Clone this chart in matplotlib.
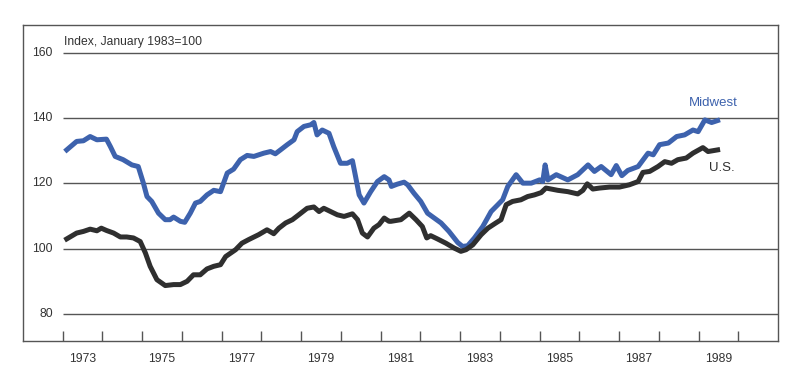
import numpy as np
import matplotlib.pyplot as plt

# Midwest index (decimal year, value)
mw_t = [1973.10, 1973.35, 1973.52, 1973.69, 1973.86, 1974.10, 1974.20, 1974.32, 1974.52, 1974.74,
        1974.90, 1975.03, 1975.12, 1975.24, 1975.41, 1975.58, 1975.70, 1975.79, 1975.96, 1976.07,
        1976.21, 1976.34, 1976.46, 1976.63, 1976.80, 1976.97, 1977.14, 1977.30, 1977.47, 1977.64,
        1977.81, 1978.06, 1978.23, 1978.35, 1978.48, 1978.65, 1978.82, 1978.90, 1979.07, 1979.24,
        1979.32, 1979.40, 1979.53, 1979.70, 1979.82, 1979.99, 1980.16, 1980.29, 1980.37, 1980.46,
        1980.58, 1980.75, 1980.92, 1981.09, 1981.21, 1981.27, 1981.42, 1981.59, 1981.68, 1981.84,
        1982.01, 1982.18, 1982.35, 1982.52, 1982.72, 1982.94, 1983.06, 1983.19, 1983.36, 1983.57,
        1983.78, 1983.95, 1984.07, 1984.20, 1984.41, 1984.58, 1984.79, 1985.00, 1985.08, 1985.14,
        1985.21, 1985.42, 1985.71, 1985.96, 1986.22, 1986.38, 1986.55, 1986.80, 1986.93, 1987.07,
        1987.22, 1987.48, 1987.73, 1987.86, 1988.02, 1988.24, 1988.45, 1988.65, 1988.86, 1988.99,
        1989.16, 1989.33, 1989.48]
mw_v = [130.3, 132.9, 133.1, 134.4, 133.4, 133.6, 131.3, 128.3, 127.3, 125.7,
        125.2, 120.1, 116.0, 114.5, 110.9, 108.9, 108.9, 109.7, 108.4, 108.1,
        110.9, 114.0, 114.5, 116.5, 117.9, 117.5, 123.2, 124.4, 127.3, 128.6,
        128.3, 129.3, 129.8, 129.1, 130.3, 131.9, 133.4, 135.9, 137.5, 138.0,
        138.7, 134.9, 136.4, 135.4, 131.3, 126.2, 126.2, 127.0, 122.1, 116.5,
        114.0, 117.5, 120.6, 122.1, 121.1, 119.1, 119.8, 120.4, 119.6, 117.0,
        114.5, 110.9, 109.4, 107.9, 105.3, 101.9, 100.7, 100.9, 103.3, 106.8,
        111.4, 113.5, 115.0, 119.1, 122.7, 120.1, 120.1, 121.1, 120.6, 125.7,
        121.1, 122.7, 121.1, 122.7, 125.7, 123.7, 125.2, 122.7, 125.5, 122.4,
        124.0, 125.2, 129.3, 128.8, 131.9, 132.4, 134.4, 134.9, 136.4, 135.9,
        139.5, 138.7, 139.3]

# U.S. index
us_t = [1973.10, 1973.35, 1973.52, 1973.69, 1973.86, 1973.97, 1974.10, 1974.28, 1974.45, 1974.61,
        1974.78, 1974.95, 1975.08, 1975.20, 1975.37, 1975.58, 1975.79, 1975.96, 1976.13, 1976.29,
        1976.46, 1976.63, 1976.80, 1976.97, 1977.10, 1977.35, 1977.51, 1977.68, 1977.93, 1978.14,
        1978.31, 1978.44, 1978.61, 1978.78, 1978.94, 1979.15, 1979.32, 1979.45, 1979.57, 1979.74,
        1979.91, 1980.08, 1980.29, 1980.42, 1980.54, 1980.67, 1980.83, 1980.96, 1981.09, 1981.21,
        1981.26, 1981.51, 1981.72, 1981.89, 1982.05, 1982.16, 1982.26, 1982.43, 1982.64, 1982.85,
        1983.02, 1983.15, 1983.32, 1983.53, 1983.70, 1983.90, 1984.03, 1984.16, 1984.32, 1984.53,
        1984.70, 1984.87, 1985.04, 1985.16, 1985.29, 1985.46, 1985.71, 1985.96, 1986.09, 1986.20,
        1986.34, 1986.51, 1986.76, 1987.01, 1987.26, 1987.48, 1987.60, 1987.77, 1987.98, 1988.15,
        1988.32, 1988.48, 1988.69, 1988.86, 1989.11, 1989.24, 1989.48]
us_v = [103.0, 104.8, 105.3, 106.0, 105.5, 106.3, 105.6, 104.8, 103.6, 103.6,
        103.3, 102.2, 98.7, 94.6, 90.5, 88.7, 89.0, 89.0, 90.0, 92.0,
        92.0, 93.8, 94.6, 95.1, 97.6, 99.7, 101.7, 102.8, 104.3, 105.8,
        104.6, 106.3, 107.9, 108.9, 110.4, 112.4, 112.8, 111.4, 112.4, 111.4,
        110.4, 109.9, 110.7, 108.9, 104.8, 103.6, 106.3, 107.4, 109.4, 108.4,
        108.4, 108.9, 110.9, 108.9, 106.8, 103.3, 104.0, 103.0, 101.7, 100.2,
        99.2, 99.7, 101.2, 104.3, 106.3, 107.9, 108.9, 113.5, 114.5, 115.0,
        116.0, 116.5, 117.2, 118.6, 118.3, 117.9, 117.5, 116.8, 117.9, 119.9,
        118.3, 118.6, 118.9, 118.9, 119.6, 120.6, 123.4, 123.7, 125.2, 126.7,
        126.2, 127.3, 127.8, 129.3, 131.0, 129.8, 130.3]

y_ticks = [80, 100, 120, 140, 160]
year_ticks = list(range(1973, 1991))
year_labels = [str(y) for y in range(1973, 1990, 2)]

blue = '#3d62ad'
dark = '#2f2f2f'
grid_c = '#555555'

plt.rcParams['font.family'] = ['Liberation Sans', 'DejaVu Sans']

fig = plt.figure(figsize=(8, 3.82), dpi=100)
ax = fig.add_axes([23 / 800, 41 / 382, 755 / 800, 316 / 382])
ax.set_xlim(1972, 1991)
ax.set_ylim(71.7, 168.6)

# gridlines start at 1973, labels sit to their left inside the frame
ax.hlines(y_ticks, 1973, 1991, color=grid_c, lw=1.0, zorder=1)
for v in y_ticks:
    ax.text(1972.75, v, str(v), ha='right', va='center', fontsize=8.7, color='#333333')

ax.plot(mw_t, mw_v, color=blue, lw=3.6, solid_joinstyle='round', zorder=3)
ax.plot(us_t, us_v, color=dark, lw=3.6, solid_joinstyle='round', zorder=3)

ax.text(1973.03, 163.3, 'Index, January 1983=100', ha='left', va='center',
        fontsize=8.7, color='#333333')
ax.text(1989.38, 144.7, 'Midwest', ha='center', va='center', fontsize=9.5, color=blue)
ax.text(1989.58, 124.8, 'U.S.', ha='center', va='center', fontsize=9.5, color=dark)

ax.set_yticks([])
ax.set_xticks(year_ticks)
ax.set_xticklabels([])
ax.tick_params(axis='x', which='major', direction='in', length=7, width=1.0, color=grid_c)
ax.set_xticks([int(s) + 0.5 for s in year_labels], minor=True)
ax.set_xticklabels(year_labels, minor=True)
ax.tick_params(axis='x', which='minor', length=0, pad=9, labelsize=8.7, labelcolor='#333333')

for s in ax.spines.values():
    s.set_color(grid_c)
    s.set_linewidth(1.0)

fig.savefig('out.png', dpi=100)
